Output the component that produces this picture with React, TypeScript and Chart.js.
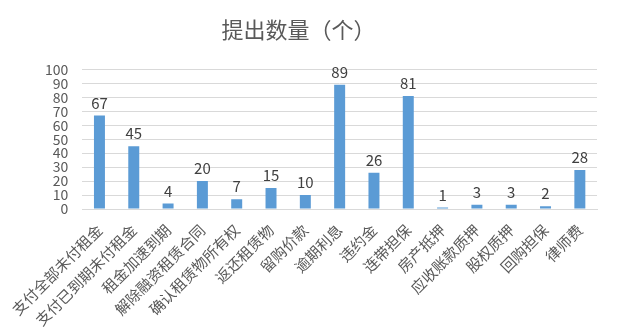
import React, { useEffect, useRef } from "react";
import { Chart, registerables } from "chart.js";

Chart.register(...registerables);

const categories = [
  "支付全部未付租金",
  "支付已到期未付租金",
  "租金加速到期",
  "解除融资租赁合同",
  "确认租赁物所有权",
  "返还租赁物",
  "留购价款",
  "逾期利息",
  "违约金",
  "连带担保",
  "房产抵押",
  "应收账款质押",
  "股权质押",
  "回购担保",
  "律师费",
];
const counts = [67, 45, 4, 20, 7, 15, 10, 89, 26, 81, 1, 3, 3, 2, 28];
const titleText = "提出数量（个）";

const FONT = "'Noto Sans CJK SC', 'Noto Sans', sans-serif";

const dataLabels = {
  id: "dataLabels",
  afterDatasetsDraw(chart: any) {
    const ctx = chart.ctx;
    const meta = chart.getDatasetMeta(0);
    ctx.save();
    ctx.font = `15px ${FONT}`;
    ctx.fillStyle = "#404040";
    ctx.textAlign = "center";
    ctx.textBaseline = "bottom";
    meta.data.forEach((bar: any, i: number) => {
      ctx.fillText(String(chart.data.datasets[0].data[i]), bar.x, bar.y - 5);
    });
    ctx.restore();
  },
};

export default function App() {
  const ref = useRef<HTMLCanvasElement>(null);
  useEffect(() => {
    document.body.style.margin = "0";
    const chart = new Chart(ref.current!, {
      type: "bar",
      data: {
        labels: categories,
        datasets: [
          {
            data: counts,
            backgroundColor: "#5B9BD5",
            categoryPercentage: 1,
            barPercentage: 0.32,
          },
        ],
      },
      plugins: [dataLabels],
      options: {
        animation: false,
        responsive: false,
        layout: { padding: { left: 0, right: 43, top: 0, bottom: 0 } },
        plugins: {
          legend: { display: false },
          tooltip: { enabled: false },
          title: {
            display: true,
            text: titleText,
            color: "#595959",
            font: { family: FONT, size: 22, weight: "normal" },
            padding: { top: 16, bottom: 27 },
          },
        },
        scales: {
          x: {
            grid: { display: false, drawTicks: false },
            border: { display: true, color: "#d9d9d9" },
            ticks: {
              color: "#595959",
              font: { family: FONT, size: 15 },
              maxRotation: 45,
              minRotation: 45,
              autoSkip: false,
              padding: 12,
            },
            afterFit: (s: any) => {
              s.height = 125;
            },
          },
          y: {
            min: 0,
            max: 100,
            ticks: {
              stepSize: 10,
              autoSkip: false,
              color: "#595959",
              font: { family: FONT, size: 14, lineHeight: 1 },
              padding: 14,
            },
            grid: { color: "#d9d9d9", drawTicks: false },
            border: { display: false },
            afterFit: (s: any) => {
              s.width = 78;
            },
          },
        },
      },
    });
    return () => chart.destroy();
  }, []);
  return (
    <div style={{ width: 640, height: 334 }}>
      <canvas ref={ref} width={640} height={334} />
    </div>
  );
}
